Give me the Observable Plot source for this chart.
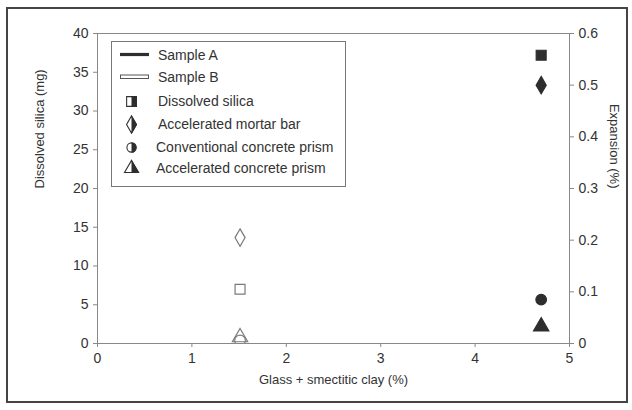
<!DOCTYPE html>
<html>
<head>
<meta charset="utf-8">
<script src="https://cdn.jsdelivr.net/npm/d3@7"></script>
<script src="https://cdn.jsdelivr.net/npm/@observablehq/plot@0.6"></script>
<style>
  html, body { margin: 0; padding: 0; background: white; }
  #wrap { position: relative; width: 632px; height: 410px; }
  #wrap svg { position: absolute; left: 0; top: 0; }
</style>
</head>
<body>
<div id="wrap"></div>
<script>
// ---- data ----
const samples = ["Sample B", "Sample A"];
const glassClay = [1.51, 4.70];            // % glass + smectitic clay
const dissolvedSilica = [7.0, 37.2];       // mg (left axis)
const mortarBar = [0.205, 0.50];           // % expansion (right axis)
const concretePrism = [0.006, 0.085];      // % expansion
const accelConcretePrism = [0.012, 0.033]; // % expansion

const xTicks = [0, 1, 2, 3, 4, 5];
const leftTicks = [0, 5, 10, 15, 20, 25, 30, 35, 40];
const rightTicks = [0, 0.1, 0.2, 0.3, 0.4, 0.5, 0.6];

const legendLines = ["Sample A", "Sample B"];
const legendSymbols = ["Dissolved silica", "Accelerated mortar bar", "Conventional concrete prism", "Accelerated concrete prism"];

// ---- tables ----
const leftMax = 40, rightMax = 0.6;
const toLeft = v => v * leftMax / rightMax;
const rows = samples.map((s, i) => ({sample: s, x: glassClay[i], silica: dissolvedSilica[i],
  mortar: mortarBar[i], prism: concretePrism[i], accel: accelConcretePrism[i]}));

const fillOf = d => d.sample === "Sample A" ? "#2e2e2e" : "white";
const strokeOf = d => d.sample === "Sample A" ? "#2e2e2e" : "#7a7a7a";
const font = "'Liberation Sans', Arial, sans-serif";

const chart = Plot.plot({
  width: 632, height: 410,
  marginLeft: 97, marginRight: 63, marginTop: 33, marginBottom: 67,
  style: {fontFamily: font, fontSize: "13px", color: "#333", background: "transparent", overflow: "visible"},
  x: {domain: [0, 5]},
  y: {domain: [0, leftMax]},
  marks: [
    Plot.frame({stroke: "#888"}),
    Plot.axisX(xTicks, {tickSize: 4, tickPadding: 6, stroke: "#888", fill: "#333", label: null, fontSize: 14}),
    Plot.axisY(leftTicks, {anchor: "left", tickSize: 4, tickPadding: 5, stroke: "#888", fill: "#333", label: null, fontSize: 14}),
    Plot.axisY(rightTicks, {anchor: "right", y: d => toLeft(d), text: d => String(d), tickSize: 4, tickPadding: 5, stroke: "#888", fill: "#333", label: null, fontSize: 14}),
    Plot.text(["Glass + smectitic clay (%)"], {frameAnchor: "bottom", dy: 40, text: d => d, fill: "#333", fontSize: 13}),
    Plot.text(["Dissolved silica (mg)"], {frameAnchor: "left", dx: -58, rotate: -90, text: d => d, fill: "#333", fontSize: 13}),
    Plot.text(["Expansion (%)"], {frameAnchor: "right", dx: 45, rotate: 90, text: d => d, fill: "#333", fontSize: 13}),
    Plot.dot(rows, {x: "x", y: "silica", symbol: "square", r: 5.6, fill: fillOf, stroke: strokeOf, strokeWidth: 1.2}),
    Plot.dot(rows, {x: "x", y: d => toLeft(d.mortar), symbol: "diamond", r: 5.3, fill: fillOf, stroke: strokeOf, strokeWidth: 1.2}),
    Plot.dot(rows, {x: "x", y: d => toLeft(d.accel), symbol: "triangle", r: 5.7, fill: d => d.sample === "Sample A" ? "#2e2e2e" : "none", stroke: strokeOf, strokeWidth: 1.2}),
    Plot.dot(rows, {x: "x", y: d => toLeft(d.prism), symbol: "circle", r: 5.3, fill: d => d.sample === "Sample A" ? "#2e2e2e" : "none", stroke: strokeOf, strokeWidth: 1.2, clip: true})
  ]
});

const wrap = document.getElementById("wrap");
wrap.appendChild(chart);

// ---- overlay: figure border + legend ----
const svg = d3.select(wrap).append("svg").attr("width", 632).attr("height", 410)
  .style("font-family", font).style("font-size", "14px");
svg.append("rect").attr("x", 7).attr("y", 8).attr("width", 620).attr("height", 394)
  .attr("fill", "none").attr("stroke", "#444").attr("stroke-width", 2);

const lg = svg.append("g");
lg.append("rect").attr("x", 111.5).attr("y", 41.5).attr("width", 234).attr("height", 145)
  .attr("fill", "white").attr("stroke", "#777").attr("stroke-width", 1);

// line swatches
lg.append("line").attr("x1", 120).attr("x2", 149).attr("y1", 54.5).attr("y2", 54.5)
  .attr("stroke", "#2e2e2e").attr("stroke-width", 3.2);
lg.append("rect").attr("x", 120.5).attr("y", 75).attr("width", 28).attr("height", 3.5)
  .attr("fill", "white").attr("stroke", "#555").attr("stroke-width", 1);
const lineY = [55, 77];
legendLines.forEach((t, i) => {
  lg.append("text").attr("x", 158).attr("y", lineY[i]).attr("dy", "0.35em").attr("fill", "#333").text(t);
});

// half-filled symbols
const defs = svg.append("defs");
defs.append("clipPath").attr("id", "rightHalf").append("rect")
  .attr("x", 0).attr("y", -20).attr("width", 20).attr("height", 40);
const symY = [101.5, 124.5, 147.5, 168.5];
const symX = [158, 158, 156, 156];
const symDefs = [
  {type: d3.symbolSquare, size: 95},
  {type: d3.symbolDiamond, size: Math.PI * 5.2 * 5.2},
  {type: d3.symbolCircle, size: Math.PI * 4.6 * 4.6},
  {type: d3.symbolTriangle, size: Math.PI * 5.2 * 5.2}
];
legendSymbols.forEach((t, i) => {
  const g = lg.append("g").attr("transform", `translate(131.5,${symY[i]})`);
  const p = d3.symbol(symDefs[i].type, symDefs[i].size)();
  g.append("path").attr("d", p).attr("fill", "white").attr("stroke", "#333").attr("stroke-width", 1.1);
  g.append("path").attr("d", p).attr("fill", "#2e2e2e").attr("stroke", "#2e2e2e").attr("stroke-width", 1.1)
    .attr("clip-path", "url(#rightHalf)");
  lg.append("text").attr("x", symX[i]).attr("y", symY[i]).attr("dy", "0.35em").attr("fill", "#333").text(t);
});
</script>
</body>
</html>
